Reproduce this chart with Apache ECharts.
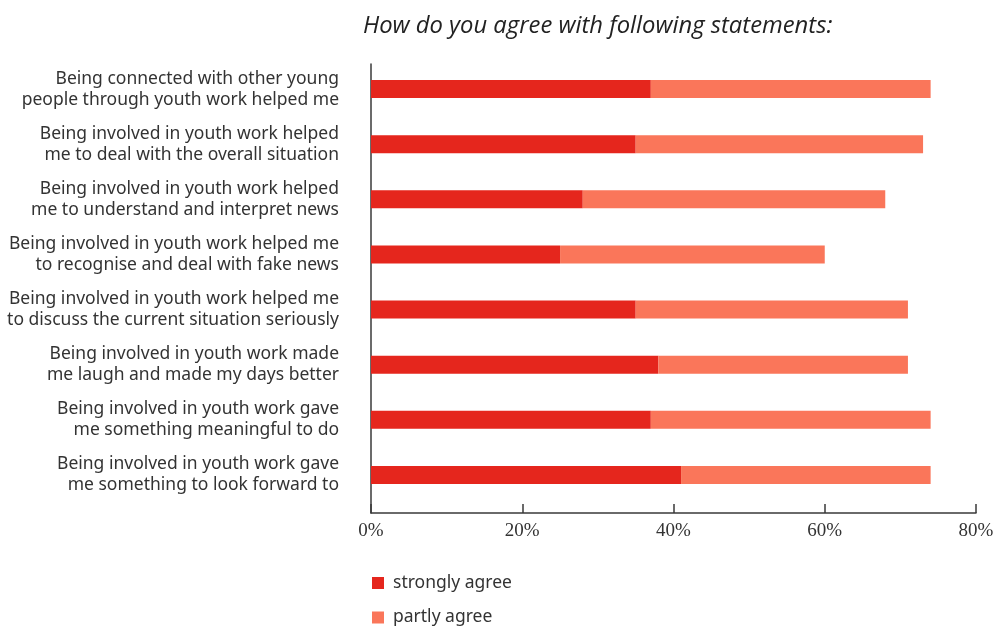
<!DOCTYPE html>
<html>
<head>
<meta charset="utf-8">
<script src="https://cdn.jsdelivr.net/npm/echarts@6/dist/echarts.min.js"></script>
<style>
  html, body { margin: 0; padding: 0; background: #fff; }
  #chart { width: 999px; height: 627px; }
</style>
</head>
<body>
<div id="chart"></div>
<script>
// Survey statements (top to bottom)
const statements = [
  'Being connected with other young\npeople through youth work helped me',
  'Being involved in youth work helped\nme to deal with the overall situation',
  'Being involved in youth work helped\nme to understand and interpret news',
  'Being involved in youth work helped me\nto recognise and deal with fake news',
  'Being involved in youth work helped me\nto discuss the current situation seriously',
  'Being involved in youth work made\nme laugh and made my days better',
  'Being involved in youth work gave\nme something meaningful to do',
  'Being involved in youth work gave\nme something to look forward to'
];

// Share of respondents, in percent
const stronglyAgree = [37, 35, 28, 25, 35, 38, 37, 41];
const partlyAgree   = [37, 38, 40, 35, 36, 33, 37, 33];

// Percentage axis range
const axisMin = 0;
const axisMax = 80;
const axisStep = 20;

const seriesNames = ['strongly agree', 'partly agree'];
const colors = ['#E5261D', '#FA765A'];

const legendText = {
  fontFamily: 'Noto Sans',
  fontSize: 17.5,
  color: '#333',
  padding: [0, 0, 0, 4]
};

// one legend entry per block, stacked vertically
function legendEntry(name, top) {
  return {
    left: 372,
    top: top,
    padding: 0,
    itemWidth: 12,
    itemHeight: 12,
    icon: 'rect',
    data: [name],
    textStyle: legendText
  };
}

const chart = echarts.init(document.getElementById('chart'), null, { renderer: 'canvas' });

chart.setOption({
  animation: false,
  title: {
    text: 'How do you agree with following statements:',
    left: 358,
    top: 9,
    textStyle: {
      fontFamily: 'Open Sans',
      fontStyle: 'italic',
      fontWeight: 500,
      fontSize: 23.8,
      color: '#222'
    }
  },
  legend: [
    legendEntry(seriesNames[0], 574),
    legendEntry(seriesNames[1], 608.5)
  ],
  grid: [
    // bars
    { left: 371, right: 23, top: 61.5, height: 441 },
    // axis frame
    { left: 371, right: 23, top: 64, bottom: 114 }
  ],
  xAxis: [
    {
      gridIndex: 0,
      type: 'value',
      min: axisMin,
      max: axisMax,
      interval: axisStep,
      show: false
    },
    {
      gridIndex: 1,
      type: 'value',
      min: axisMin,
      max: axisMax,
      interval: axisStep,
      axisLine: { show: true, lineStyle: { color: '#3a3a3a', width: 1.5 } },
      axisTick: { show: true, inside: true, length: 9, lineStyle: { color: '#3a3a3a', width: 1.5 } },
      splitLine: { show: false },
      axisLabel: {
        formatter: '{value}%',
        margin: 9,
        fontFamily: 'Liberation Serif',
        fontSize: 19,
        color: '#333'
      }
    }
  ],
  yAxis: [
    {
      gridIndex: 0,
      type: 'category',
      inverse: true,
      data: statements,
      axisLine: { show: false },
      axisTick: { show: false },
      axisLabel: {
        margin: 32,
        fontFamily: 'Noto Sans',
        fontSize: 17.5,
        lineHeight: 21,
        color: '#333',
        align: 'right'
      }
    },
    {
      gridIndex: 1,
      type: 'value',
      min: 0,
      max: 1,
      axisLine: { show: true, lineStyle: { color: '#3a3a3a', width: 1.5 } },
      axisTick: { show: false },
      axisLabel: { show: false },
      splitLine: { show: false }
    }
  ],
  series: [
    {
      name: seriesNames[0],
      type: 'bar',
      stack: 'agree',
      xAxisIndex: 0,
      yAxisIndex: 0,
      barWidth: 18,
      itemStyle: { color: colors[0] },
      data: stronglyAgree
    },
    {
      name: seriesNames[1],
      type: 'bar',
      stack: 'agree',
      xAxisIndex: 0,
      yAxisIndex: 0,
      barWidth: 18,
      itemStyle: { color: colors[1] },
      data: partlyAgree
    }
  ]
});
</script>
</body>
</html>
